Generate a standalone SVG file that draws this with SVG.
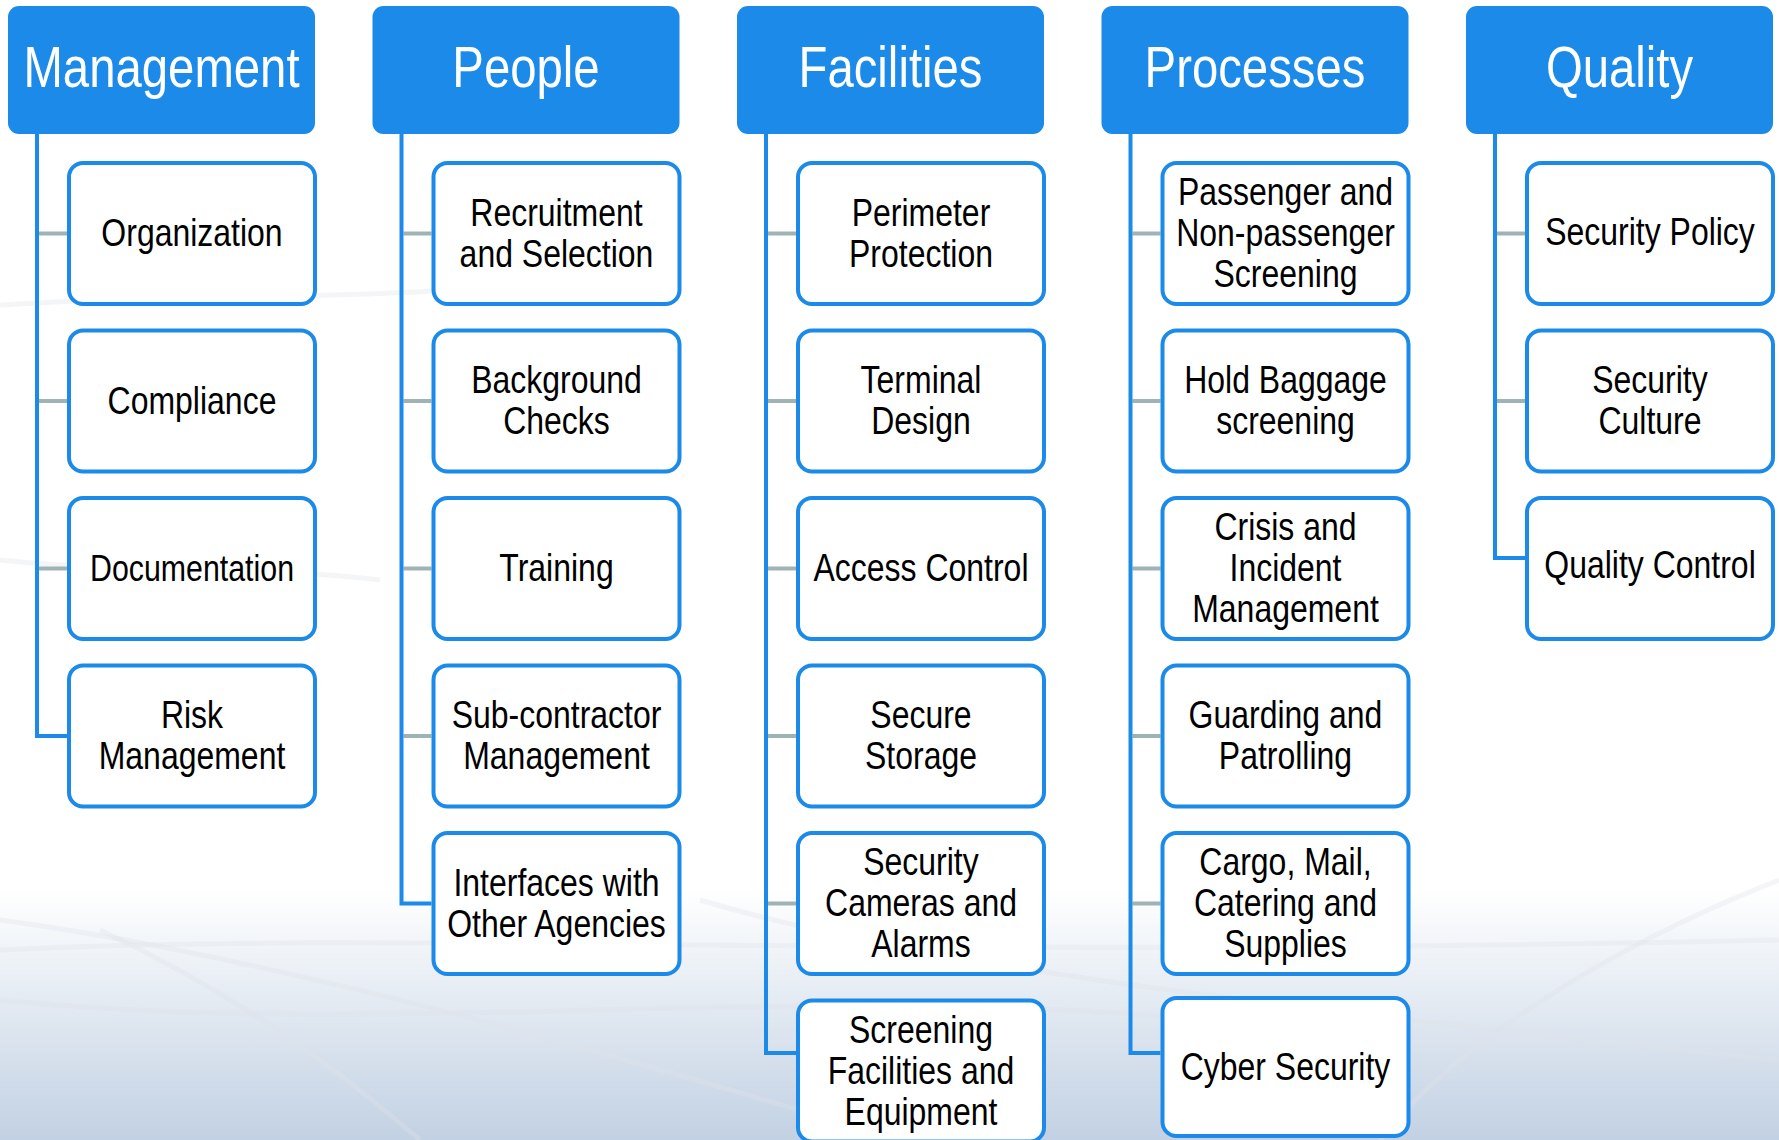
<svg xmlns="http://www.w3.org/2000/svg" width="1779" height="1140" viewBox="0 0 1779 1140">
<style>
.hdr{fill:#1b8ae9}
.htx{font-family:"Liberation Sans",Arial,sans-serif;font-size:57px;fill:#ffffff;text-anchor:middle}
.box{fill:#ffffff;stroke:#1b8ae9;stroke-width:4}
.lbl{font-family:"Liberation Sans",Arial,sans-serif;font-size:39px;fill:#000000;text-anchor:middle}
.spine{fill:none;stroke:#1b8ae9;stroke-width:4}
.stub{stroke:#9fb3b4;stroke-width:4}
.streak{fill:none;stroke:#dfe3e9;stroke-width:5;opacity:0.35}
</style>
<defs>
<linearGradient id="bg" x1="0" y1="0" x2="0" y2="1140" gradientUnits="userSpaceOnUse">
<stop offset="0" stop-color="#ffffff"/>
<stop offset="0.78" stop-color="#ffffff"/>
<stop offset="1" stop-color="#c2d1e3"/>
</linearGradient>
</defs>
<rect x="0" y="0" width="1779" height="1140" fill="url(#bg)"/>
<g id="background-streaks">
<path class="streak" d="M0,305 C150,295 300,300 450,290"/>
<path class="streak" d="M0,560 C150,575 250,565 380,580"/>
<path class="streak" d="M0,950 C400,930 900,960 1779,940"/>
<path class="streak" d="M0,920 C300,960 700,1080 900,1140"/>
<path class="streak" d="M100,930 C250,1000 350,1080 420,1140"/>
<path class="streak" d="M1779,880 C1600,950 1450,1050 1380,1140"/>
<path class="streak" d="M700,900 C900,960 1200,1000 1779,1060"/>
<path class="streak" d="M0,1000 C400,1040 800,980 1200,1020"/>
</g>

<g id="connectors">
<line class="stub" x1="39" y1="233.5" x2="67" y2="233.5"/>
<line class="stub" x1="39" y1="401" x2="67" y2="401"/>
<line class="stub" x1="39" y1="568.5" x2="67" y2="568.5"/>
<path class="spine" d="M37,134 V736 H67"/>

<line class="stub" x1="403.5" y1="233.5" x2="431.5" y2="233.5"/>
<line class="stub" x1="403.5" y1="401" x2="431.5" y2="401"/>
<line class="stub" x1="403.5" y1="568.5" x2="431.5" y2="568.5"/>
<line class="stub" x1="403.5" y1="736" x2="431.5" y2="736"/>
<path class="spine" d="M401.5,134 V903.5 H431.5"/>

<line class="stub" x1="768" y1="233.5" x2="796" y2="233.5"/>
<line class="stub" x1="768" y1="401" x2="796" y2="401"/>
<line class="stub" x1="768" y1="568.5" x2="796" y2="568.5"/>
<line class="stub" x1="768" y1="736" x2="796" y2="736"/>
<line class="stub" x1="768" y1="903.5" x2="796" y2="903.5"/>
<path class="spine" d="M766,134 V1053 H796"/>

<line class="stub" x1="1132.5" y1="233.5" x2="1160.5" y2="233.5"/>
<line class="stub" x1="1132.5" y1="401" x2="1160.5" y2="401"/>
<line class="stub" x1="1132.5" y1="568.5" x2="1160.5" y2="568.5"/>
<line class="stub" x1="1132.5" y1="736" x2="1160.5" y2="736"/>
<line class="stub" x1="1132.5" y1="903.5" x2="1160.5" y2="903.5"/>
<path class="spine" d="M1130.5,134 V1053 H1160.5"/>

<line class="stub" x1="1497" y1="233.5" x2="1525" y2="233.5"/>
<line class="stub" x1="1497" y1="401" x2="1525" y2="401"/>
<path class="spine" d="M1495,134 V558 H1525"/>
</g>

<g id="h-management"><rect class="hdr" x="8" y="6" width="307" height="128" rx="11"/><text class="htx" transform="translate(161.5,0) scale(0.83,1)" x="0" y="87">Management</text></g>
<g id="h-people"><rect class="hdr" x="372.5" y="6" width="307" height="128" rx="11"/><text class="htx" transform="translate(526,0) scale(0.83,1)" x="0" y="87">People</text></g>
<g id="h-facilities"><rect class="hdr" x="737" y="6" width="307" height="128" rx="11"/><text class="htx" transform="translate(890.5,0) scale(0.83,1)" x="0" y="87">Facilities</text></g>
<g id="h-processes"><rect class="hdr" x="1101.5" y="6" width="307" height="128" rx="11"/><text class="htx" transform="translate(1255,0) scale(0.83,1)" x="0" y="87">Processes</text></g>
<g id="h-quality"><rect class="hdr" x="1466" y="6" width="307" height="128" rx="11"/><text class="htx" transform="translate(1619.5,0) scale(0.83,1)" x="0" y="87">Quality</text></g>

<g id="n-organization"><rect class="box" x="69" y="163" width="246" height="141" rx="14"/><text class="lbl" transform="translate(192,0) scale(0.82,1)"><tspan x="0" y="246.5">Organization</tspan></text></g>
<g id="n-compliance"><rect class="box" x="69" y="330.5" width="246" height="141" rx="14"/><text class="lbl" transform="translate(192,0) scale(0.82,1)"><tspan x="0" y="414">Compliance</tspan></text></g>
<g id="n-documentation"><rect class="box" x="69" y="498" width="246" height="141" rx="14"/><text class="lbl" transform="translate(192,0) scale(0.82,1)" style="font-size:37px"><tspan x="0" y="581">Documentation</tspan></text></g>
<g id="n-risk"><rect class="box" x="69" y="665.5" width="246" height="141" rx="14"/><text class="lbl" transform="translate(192,0) scale(0.82,1)"><tspan x="0" y="728.5">Risk</tspan><tspan x="0" y="769.5">Management</tspan></text></g>

<g id="n-recruitment"><rect class="box" x="433.5" y="163" width="246" height="141" rx="14"/><text class="lbl" transform="translate(556.5,0) scale(0.82,1)"><tspan x="0" y="226">Recruitment</tspan><tspan x="0" y="267">and Selection</tspan></text></g>
<g id="n-background"><rect class="box" x="433.5" y="330.5" width="246" height="141" rx="14"/><text class="lbl" transform="translate(556.5,0) scale(0.82,1)"><tspan x="0" y="393.5">Background</tspan><tspan x="0" y="434.5">Checks</tspan></text></g>
<g id="n-training"><rect class="box" x="433.5" y="498" width="246" height="141" rx="14"/><text class="lbl" transform="translate(556.5,0) scale(0.82,1)"><tspan x="0" y="581">Training</tspan></text></g>
<g id="n-subcontractor"><rect class="box" x="433.5" y="665.5" width="246" height="141" rx="14"/><text class="lbl" transform="translate(556.5,0) scale(0.82,1)"><tspan x="0" y="728.5">Sub-contractor</tspan><tspan x="0" y="769.5">Management</tspan></text></g>
<g id="n-interfaces"><rect class="box" x="433.5" y="833" width="246" height="141" rx="14"/><text class="lbl" transform="translate(556.5,0) scale(0.82,1)"><tspan x="0" y="896">Interfaces with</tspan><tspan x="0" y="937">Other Agencies</tspan></text></g>

<g id="n-perimeter"><rect class="box" x="798" y="163" width="246" height="141" rx="14"/><text class="lbl" transform="translate(921,0) scale(0.82,1)"><tspan x="0" y="226">Perimeter</tspan><tspan x="0" y="267">Protection</tspan></text></g>
<g id="n-terminal"><rect class="box" x="798" y="330.5" width="246" height="141" rx="14"/><text class="lbl" transform="translate(921,0) scale(0.82,1)"><tspan x="0" y="393.5">Terminal</tspan><tspan x="0" y="434.5">Design</tspan></text></g>
<g id="n-access"><rect class="box" x="798" y="498" width="246" height="141" rx="14"/><text class="lbl" transform="translate(921,0) scale(0.82,1)"><tspan x="0" y="581">Access Control</tspan></text></g>
<g id="n-storage"><rect class="box" x="798" y="665.5" width="246" height="141" rx="14"/><text class="lbl" transform="translate(921,0) scale(0.82,1)"><tspan x="0" y="728.5">Secure</tspan><tspan x="0" y="769.5">Storage</tspan></text></g>
<g id="n-cameras"><rect class="box" x="798" y="833" width="246" height="141" rx="14"/><text class="lbl" transform="translate(921,0) scale(0.82,1)"><tspan x="0" y="875.5">Security</tspan><tspan x="0" y="916.5">Cameras and</tspan><tspan x="0" y="957.5">Alarms</tspan></text></g>
<g id="n-screening-fac"><rect class="box" x="798" y="1000.5" width="246" height="141" rx="14"/><text class="lbl" transform="translate(921,0) scale(0.82,1)"><tspan x="0" y="1043">Screening</tspan><tspan x="0" y="1084">Facilities and</tspan><tspan x="0" y="1125">Equipment</tspan></text></g>

<g id="n-passenger"><rect class="box" x="1162.5" y="163" width="246" height="141" rx="14"/><text class="lbl" transform="translate(1285.5,0) scale(0.82,1)"><tspan x="0" y="205.5">Passenger and</tspan><tspan x="0" y="246.5">Non-passenger</tspan><tspan x="0" y="287.5">Screening</tspan></text></g>
<g id="n-hold"><rect class="box" x="1162.5" y="330.5" width="246" height="141" rx="14"/><text class="lbl" transform="translate(1285.5,0) scale(0.82,1)"><tspan x="0" y="393.5">Hold Baggage</tspan><tspan x="0" y="434.5">screening</tspan></text></g>
<g id="n-crisis"><rect class="box" x="1162.5" y="498" width="246" height="141" rx="14"/><text class="lbl" transform="translate(1285.5,0) scale(0.82,1)"><tspan x="0" y="540.5">Crisis and</tspan><tspan x="0" y="581.5">Incident</tspan><tspan x="0" y="622.5">Management</tspan></text></g>
<g id="n-guarding"><rect class="box" x="1162.5" y="665.5" width="246" height="141" rx="14"/><text class="lbl" transform="translate(1285.5,0) scale(0.82,1)"><tspan x="0" y="728.5">Guarding and</tspan><tspan x="0" y="769.5">Patrolling</tspan></text></g>
<g id="n-cargo"><rect class="box" x="1162.5" y="833" width="246" height="141" rx="14"/><text class="lbl" transform="translate(1285.5,0) scale(0.82,1)"><tspan x="0" y="875.5">Cargo, Mail,</tspan><tspan x="0" y="916.5">Catering and</tspan><tspan x="0" y="957.5">Supplies</tspan></text></g>
<g id="n-cyber"><rect class="box" x="1162.5" y="998" width="246" height="138" rx="14"/><text class="lbl" transform="translate(1285.5,0) scale(0.82,1)"><tspan x="0" y="1080">Cyber Security</tspan></text></g>

<g id="n-policy"><rect class="box" x="1527" y="163" width="246" height="141" rx="14"/><text class="lbl" transform="translate(1650,0) scale(0.82,1)"><tspan x="0" y="245">Security Policy</tspan></text></g>
<g id="n-culture"><rect class="box" x="1527" y="330.5" width="246" height="141" rx="14"/><text class="lbl" transform="translate(1650,0) scale(0.82,1)"><tspan x="0" y="393.5">Security</tspan><tspan x="0" y="434.5">Culture</tspan></text></g>
<g id="n-quality-control"><rect class="box" x="1527" y="498" width="246" height="141" rx="14"/><text class="lbl" transform="translate(1650,0) scale(0.82,1)"><tspan x="0" y="578">Quality Control</tspan></text></g>
</svg>
